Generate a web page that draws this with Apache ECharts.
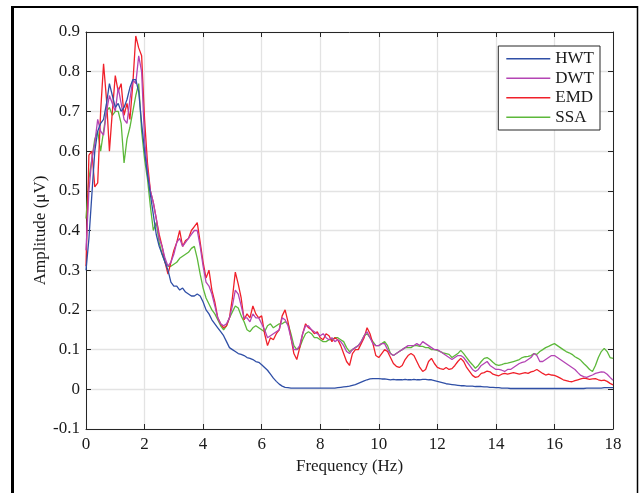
<!DOCTYPE html>
<html>
<head>
<meta charset="utf-8">
<script src="https://cdn.jsdelivr.net/npm/echarts@6/dist/echarts.min.js"></script>
<style>
html,body{margin:0;padding:0;background:#fff;}
#chart{width:639px;height:493px;}
</style>
</head>
<body>
<div id="chart"></div>
<script>
const freq = [0,0.1,0.2,0.3,0.4,0.5,0.6,0.7,0.8,0.9,1,1.1,1.2,1.3,1.4,1.5,1.6,1.7,1.8,1.9,2,2.1,2.2,2.3,2.4,2.5,2.6,2.7,2.8,2.9,3,3.1,3.2,3.3,3.4,3.5,3.6,3.7,3.8,3.9,4,4.1,4.2,4.3,4.4,4.5,4.6,4.7,4.8,4.9,5,5.1,5.2,5.3,5.4,5.5,5.6,5.7,5.8,5.9,6,6.1,6.2,6.3,6.4,6.5,6.6,6.7,6.8,6.9,7,7.1,7.2,7.3,7.4,7.5,7.6,7.7,7.8,7.9,8,8.1,8.2,8.3,8.4,8.5,8.6,8.7,8.8,8.9,9,9.1,9.2,9.3,9.4,9.5,9.6,9.7,9.8,9.9,10,10.1,10.2,10.3,10.4,10.5,10.6,10.7,10.8,10.9,11,11.1,11.2,11.3,11.4,11.5,11.6,11.7,11.8,11.9,12,12.1,12.2,12.3,12.4,12.5,12.6,12.7,12.8,12.9,13,13.1,13.2,13.3,13.4,13.5,13.6,13.7,13.8,13.9,14,14.1,14.2,14.3,14.4,14.5,14.6,14.7,14.8,14.9,15,15.1,15.2,15.3,15.4,15.5,15.6,15.7,15.8,15.9,16,16.1,16.2,16.3,16.4,16.5,16.6,16.7,16.8,16.9,17,17.1,17.2,17.3,17.4,17.5,17.6,17.7,17.8,17.9,18];

const hwt = [0.30,0.38,0.49,0.60,0.65,0.67,0.68,0.72,0.77,0.74,0.71,0.72,0.70,0.71,0.73,0.76,0.78,0.78,0.75,0.67,0.60,0.54,0.49,0.44,0.39,0.36,0.34,0.32,0.30,0.27,0.26,0.26,0.25,0.255,0.245,0.24,0.235,0.235,0.24,0.235,0.22,0.20,0.19,0.175,0.165,0.155,0.145,0.135,0.12,0.105,0.10,0.095,0.09,0.088,0.085,0.08,0.078,0.075,0.07,0.068,0.062,0.055,0.048,0.038,0.028,0.02,0.013,0.008,0.005,0.004,0.003,0.003,0.003,0.003,0.003,0.003,0.003,0.003,0.003,0.003,0.003,0.003,0.003,0.003,0.003,0.003,0.004,0.005,0.006,0.007,0.008,0.010,0.012,0.015,0.018,0.021,0.024,0.026,0.027,0.027,0.027,0.026,0.026,0.025,0.024,0.025,0.024,0.024,0.024,0.025,0.024,0.024,0.025,0.024,0.024,0.025,0.025,0.024,0.024,0.022,0.020,0.018,0.016,0.014,0.013,0.012,0.011,0.010,0.009,0.009,0.008,0.008,0.008,0.007,0.007,0.007,0.006,0.006,0.005,0.005,0.004,0.004,0.003,0.003,0.003,0.002,0.002,0.002,0.002,0.002,0.002,0.002,0.002,0.002,0.002,0.002,0.002,0.002,0.002,0.002,0.002,0.002,0.002,0.002,0.002,0.002,0.002,0.002,0.002,0.002,0.002,0.003,0.003,0.003,0.003,0.003,0.003,0.004,0.004,0.004,0.004,0.004];

const dwt = [0.35,0.50,0.58,0.62,0.68,0.65,0.64,0.70,0.74,0.72,0.70,0.76,0.72,0.68,0.67,0.73,0.78,0.77,0.84,0.80,0.63,0.55,0.50,0.47,0.43,0.38,0.36,0.33,0.31,0.32,0.34,0.37,0.38,0.36,0.37,0.38,0.39,0.40,0.40,0.36,0.31,0.27,0.26,0.24,0.21,0.18,0.165,0.16,0.165,0.18,0.21,0.25,0.24,0.21,0.18,0.18,0.17,0.19,0.18,0.18,0.165,0.15,0.13,0.135,0.14,0.145,0.15,0.18,0.175,0.16,0.13,0.10,0.10,0.11,0.14,0.16,0.16,0.15,0.145,0.14,0.135,0.14,0.13,0.125,0.13,0.12,0.125,0.12,0.11,0.095,0.09,0.10,0.105,0.11,0.12,0.135,0.145,0.13,0.115,0.11,0.11,0.115,0.115,0.10,0.09,0.085,0.09,0.095,0.10,0.105,0.11,0.11,0.11,0.115,0.11,0.12,0.115,0.11,0.105,0.10,0.10,0.095,0.09,0.085,0.08,0.075,0.08,0.085,0.085,0.08,0.07,0.06,0.05,0.045,0.05,0.06,0.065,0.07,0.06,0.055,0.05,0.05,0.048,0.045,0.05,0.05,0.055,0.06,0.065,0.068,0.07,0.075,0.08,0.09,0.085,0.07,0.07,0.075,0.08,0.085,0.085,0.08,0.075,0.07,0.065,0.06,0.055,0.05,0.042,0.035,0.032,0.03,0.033,0.036,0.04,0.042,0.044,0.043,0.038,0.03,0.023];

const emd = [0.31,0.59,0.60,0.51,0.52,0.70,0.82,0.73,0.60,0.70,0.79,0.75,0.77,0.69,0.72,0.68,0.77,0.89,0.86,0.84,0.68,0.57,0.50,0.47,0.43,0.39,0.36,0.32,0.29,0.32,0.35,0.37,0.40,0.36,0.375,0.38,0.40,0.41,0.42,0.37,0.32,0.28,0.30,0.25,0.22,0.18,0.165,0.155,0.16,0.18,0.23,0.295,0.265,0.23,0.175,0.19,0.18,0.21,0.19,0.18,0.185,0.14,0.11,0.13,0.125,0.14,0.15,0.185,0.20,0.17,0.13,0.09,0.075,0.105,0.14,0.165,0.155,0.15,0.14,0.145,0.13,0.125,0.14,0.135,0.12,0.13,0.125,0.11,0.09,0.07,0.06,0.09,0.10,0.10,0.115,0.13,0.155,0.14,0.115,0.085,0.08,0.09,0.10,0.095,0.08,0.065,0.058,0.055,0.06,0.075,0.085,0.09,0.085,0.07,0.055,0.045,0.05,0.07,0.078,0.065,0.055,0.052,0.05,0.055,0.05,0.052,0.06,0.07,0.078,0.07,0.055,0.045,0.035,0.03,0.032,0.04,0.042,0.046,0.044,0.038,0.036,0.034,0.038,0.04,0.038,0.04,0.042,0.04,0.038,0.04,0.042,0.04,0.044,0.046,0.05,0.045,0.04,0.036,0.038,0.036,0.035,0.032,0.028,0.024,0.022,0.02,0.019,0.022,0.024,0.026,0.028,0.027,0.025,0.026,0.027,0.024,0.022,0.023,0.02,0.015,0.011];

const ssa = [0.43,0.53,0.58,0.63,0.65,0.60,0.65,0.70,0.71,0.69,0.70,0.70,0.67,0.57,0.63,0.66,0.70,0.74,0.77,0.65,0.58,0.53,0.46,0.40,0.42,0.37,0.34,0.32,0.31,0.31,0.315,0.32,0.33,0.335,0.34,0.345,0.355,0.36,0.33,0.29,0.255,0.23,0.215,0.20,0.19,0.175,0.16,0.15,0.16,0.18,0.195,0.21,0.205,0.185,0.17,0.15,0.145,0.155,0.16,0.155,0.15,0.145,0.16,0.165,0.155,0.16,0.165,0.165,0.17,0.165,0.14,0.11,0.10,0.105,0.125,0.14,0.145,0.14,0.13,0.13,0.125,0.12,0.12,0.125,0.125,0.13,0.13,0.125,0.12,0.105,0.095,0.10,0.105,0.11,0.12,0.135,0.14,0.13,0.12,0.11,0.11,0.115,0.12,0.11,0.09,0.085,0.09,0.095,0.10,0.105,0.105,0.105,0.11,0.11,0.108,0.108,0.105,0.105,0.10,0.10,0.098,0.095,0.092,0.09,0.088,0.08,0.085,0.09,0.098,0.09,0.08,0.07,0.062,0.053,0.06,0.07,0.078,0.08,0.075,0.068,0.062,0.06,0.062,0.065,0.066,0.068,0.07,0.072,0.075,0.08,0.082,0.083,0.085,0.09,0.088,0.095,0.10,0.105,0.108,0.112,0.115,0.11,0.105,0.10,0.095,0.092,0.088,0.082,0.078,0.073,0.065,0.058,0.05,0.045,0.06,0.08,0.095,0.103,0.095,0.08,0.078];

const seriesNames = ['HWT','DWT','EMD','SSA'];
const seriesColors = ['#2f4fa6','#b444b4','#f0202a','#5cb83a'];
const seriesValues = [hwt, dwt, emd, ssa];
const xTicks = [0,2,4,6,8,10,12,14,16,18];
const yTicks = [-0.1,0,0.1,0.2,0.3,0.4,0.5,0.6,0.7,0.8,0.9];

const FONT = '"Liberation Serif","Times New Roman",serif';
const axisColor = '#262626';

const chart = echarts.init(document.getElementById('chart'), null, {renderer:'canvas'});

const baseX = {
  type:'value', min:0, max:18, interval:2,
  axisLine:{show:true, onZero:false, lineStyle:{color:axisColor, width:1}},
  axisTick:{show:true, inside:true, length:5, lineStyle:{color:axisColor}},
  splitLine:{show:false}
};
const baseY = {
  type:'value', min:-0.1, max:0.9, interval:0.1,
  axisLine:{show:true, onZero:false, lineStyle:{color:axisColor, width:1}},
  axisTick:{show:true, inside:true, length:5, lineStyle:{color:axisColor}},
  splitLine:{show:false}
};

const option = {
  animation:false,
  backgroundColor:'#fff',
  grid:{left:86, right:26, top:32, bottom:64, containLabel:false},
  xAxis:[
    Object.assign({}, baseX, {
      position:'bottom',
      name:'Frequency (Hz)', nameLocation:'middle', nameGap:29, nameMoveOverlap:false,
      nameTextStyle:{fontFamily:FONT, fontSize:17, color:'#1a1a1a'},
      axisLabel:{show:true, margin:7, fontFamily:FONT, fontSize:17, color:'#1a1a1a',
        formatter:v=>String(v)},
      splitLine:{show:true, lineStyle:{color:'#e3e3e3', width:1.3}}
    }),
    Object.assign({}, baseX, {position:'top', axisLabel:{show:false}})
  ],
  yAxis:[
    Object.assign({}, baseY, {
      position:'left',
      name:'Amplitude (\u03bcV)', nameLocation:'middle', nameGap:37, nameRotate:90, nameMoveOverlap:false,
      nameTextStyle:{fontFamily:FONT, fontSize:17, color:'#1a1a1a'},
      axisLabel:{show:true, margin:6, fontFamily:FONT, fontSize:17, color:'#1a1a1a',
        formatter:v=>{const r=Math.round(v*10)/10; return r===0?'0':String(r);}},
      splitLine:{show:true, lineStyle:{color:'#e3e3e3', width:1.3}}
    }),
    Object.assign({}, baseY, {position:'right', axisLabel:{show:false}})
  ],
  legend:{
    orient:'vertical', right:39, top:46,
    data:seriesNames.map(n=>({name:n, icon:'rect'})),
    backgroundColor:'#fff',
    borderColor:'#262626', borderWidth:1,
    padding:[4,6,4,8],
    itemWidth:44, itemHeight:1.6, itemGap:2,
    textStyle:{fontFamily:FONT, fontSize:17, color:'#1a1a1a', lineHeight:17.5}
  },
  series: seriesNames.map((n,i)=>({
    name:n, type:'line', xAxisIndex:0, yAxisIndex:0,
    data: freq.map((f,j)=>[f, seriesValues[i][j]]),
    symbol:'none', showSymbol:false,
    lineStyle:{color:seriesColors[i], width:1.3},
    itemStyle:{color:seriesColors[i]},
    z: 10 + (3-i)
  })),
  graphic:[
    {type:'line', shape:{x1:12.5, y1:6, x2:12.5, y2:493}, style:{stroke:'#000', lineWidth:3}, silent:true},
    {type:'line', shape:{x1:11, y1:7, x2:637.5, y2:7}, style:{stroke:'#000', lineWidth:2}, silent:true},
    {type:'line', shape:{x1:637.5, y1:6, x2:637.5, y2:493}, style:{stroke:'#000', lineWidth:1.5}, silent:true}
  ]
};
chart.setOption(option);
</script>
</body>
</html>
